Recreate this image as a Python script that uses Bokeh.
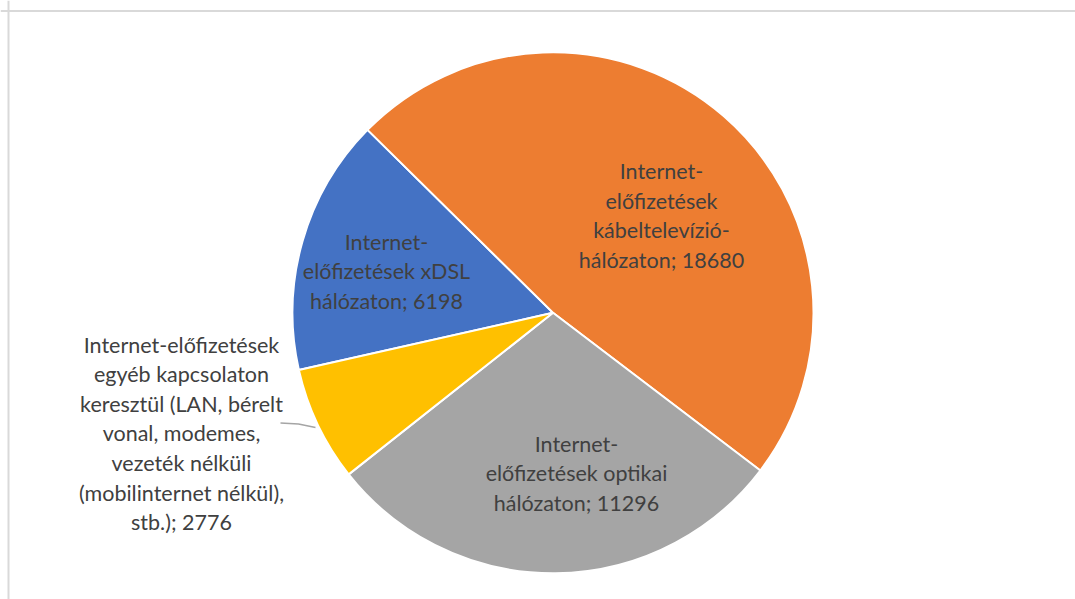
import math
from bokeh.plotting import figure
from bokeh.models import Range1d, ColumnDataSource, Span
from bokeh.core.properties import value
from bokeh.embed import file_html
from bokeh.resources import INLINE

# ---- data ----
categories = [
    "Internet-előfizetések xDSL hálózaton",
    "Internet-előfizetések kábeltelevízió-hálózaton",
    "Internet-előfizetések optikai hálózaton",
    "Internet-előfizetések egyéb kapcsolaton keresztül (LAN, bérelt vonal, modemes, vezeték nélküli (mobilinternet nélkül), stb.)",
]
values = [6198, 18680, 11296, 2776]
label_texts = [
    "Internet-\nelőfizetések xDSL\nhálózaton; 6198",
    "Internet-\nelőfizetések\nkábeltelevízió-\nhálózaton; 18680",
    "Internet-\nelőfizetések optikai\nhálózaton; 11296",
    "Internet-előfizetések\negyéb kapcsolaton\nkeresztül (LAN, bérelt\nvonal, modemes,\nvezeték nélküli\n(mobilinternet nélkül),\nstb.); 2776",
]
colors = ["#4472C4", "#ED7D31", "#A5A5A5", "#FFC000"]

# ---- layout ----
W, H = 1075, 599
def sx(x):  # screen x -> data x
    return x
def sy(y):  # screen y -> data y
    return H - y

cx, cy, R = 552.5, sy(312.3), 260.5
first_start = -45.4 - 360.0 * values[0] / sum(values)  # clockwise from 12 o'clock

total = sum(values)
starts, ends = [], []
acc = first_start
for v in values:
    a0 = acc
    a1 = acc + 360.0 * v / total
    starts.append(math.radians(90 - a0))
    ends.append(math.radians(90 - a1))
    acc = a1

src = ColumnDataSource(dict(x=[cx] * 4, y=[cy] * 4, start=starts, end=ends,
                            color=colors, cat=categories))

p = figure(width=W, height=H, output_backend="svg", toolbar_location=None,
           x_range=Range1d(0, W), y_range=Range1d(0, H),
           min_border=0, outline_line_color=None)
p.axis.visible = False
p.grid.visible = False
p.background_fill_color = "white"
p.border_fill_color = "white"

# chart-area frame (only top and left edges visible in the reference)
p.add_layout(Span(location=sx(8), dimension="height", line_color="#D9D9D9", line_width=2))
p.add_layout(Span(location=sy(10.5), dimension="width", line_color="#D9D9D9", line_width=2))

p.wedge(x="x", y="y", radius=R, start_angle="start", end_angle="end",
        direction="clock", fill_color="color", line_color="white", line_width=2,
        source=src)

# data labels
lab_x = [sx(386), sx(661), sx(576), sx(181)]
lab_y = [sy(271), sy(215), sy(473), sy(433)]
p.text(x=lab_x, y=lab_y, text=label_texts, text_align="center",
       text_baseline="middle", text_font=value("Lato"), text_font_size="21.5px",
       text_color="#404040", text_line_height=1.136)

# leader line for the outside label
p.line(x=[sx(280), sx(298), sx(315)], y=[sy(422.5), sy(423.5), sy(427)],
       line_color="#A5A5A5", line_width=1.5)

open("out.html", "w").write(file_html(p, INLINE))
